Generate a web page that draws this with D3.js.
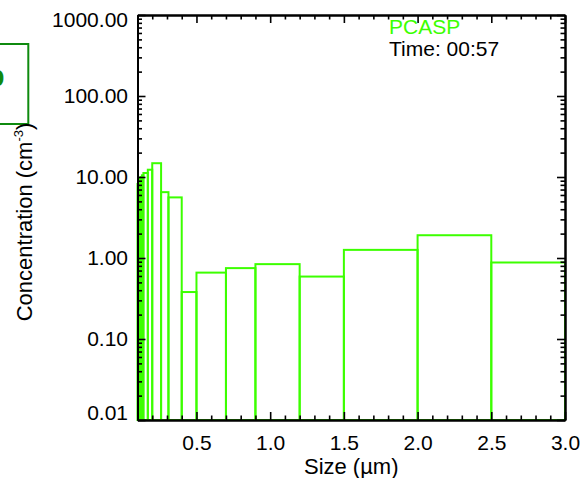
<!DOCTYPE html>
<html>
<head>
<meta charset="utf-8">
<script src="https://cdn.jsdelivr.net/npm/d3@7"></script>
<style>
  html, body { margin: 0; padding: 0; background: #ffffff; }
  svg { display: block; }
  text { font-family: "Liberation Sans", Arial, Helvetica, sans-serif; }
</style>
</head>
<body>
<svg id="chart" width="584" height="478"></svg>
<script>
// ---- data ----
const binEdges = [0.10, 0.11, 0.12, 0.13, 0.14, 0.17, 0.20, 0.26, 0.31, 0.40, 0.50, 0.70, 0.90, 1.20, 1.50, 2.00, 2.50, 3.00];
const concentrations = [8.2, 9.5, 10.0, 10.5, 11.2, 12.3, 14.8, 6.5, 5.6, 0.38, 0.66, 0.75, 0.84, 0.59, 1.26, 1.91, 0.88];
const xTickValues = [0.5, 1.0, 1.5, 2.0, 2.5, 3.0];
const yTickValues = [0.01, 0.1, 1, 10, 100, 1000];
const instrumentName = "PCASP";
const timeLabel = "Time: 00:57";
const xTitle = "Size (\u00b5m)";
const yTitle = "Concentration (cm";
const yTitleSup = "-3";
const panelLetter = "b";

(function () {
// ---- layout ----
const svg = d3.select("#chart");
const pLeft = 137.5, pRight = 565, pTop = 15, pBottom = 420;
const green = "#3cff00";
const darkGreen = "#0f8a0f";

const x = d3.scaleLinear().domain([0.1, 3.0]).range([pLeft, pRight]);
const y = d3.scaleLog().domain([0.01, 1000]).range([pBottom, pTop]);

const bins = concentrations.map((v, i) => ({x0: binEdges[i], x1: binEdges[i + 1], v}));

// panel fragment at left
svg.append("rect")
  .attr("x", -10).attr("y", 44).attr("width", 38.3).attr("height", 80)
  .attr("fill", "none").attr("stroke", darkGreen).attr("stroke-width", 2);
svg.append("text")
  .attr("x", 4.5).attr("y", 85.5)
  .attr("text-anchor", "end")
  .attr("font-size", 30).attr("font-weight", "bold")
  .attr("fill", darkGreen)
  .text(panelLetter);

// bars (histogram outlines)
svg.append("g").selectAll("rect")
  .data(bins)
  .join("rect")
  .attr("x", d => x(d.x0))
  .attr("width", d => x(d.x1) - x(d.x0))
  .attr("y", d => y(d.v))
  .attr("height", d => y(0.01) - y(d.v))
  .attr("fill", "none")
  .attr("stroke", green)
  .attr("stroke-width", 2);

// minor ticks
const xMinor = d3.range(1, 31).map(i => i / 10).filter(v => !xTickValues.some(t => Math.abs(t - v) < 1e-9));
const yMinor = [];
[0.01, 0.1, 1, 10, 100].forEach(d => { for (let k = 2; k <= 9; k++) yMinor.push(k * d); });

const fontTick = 21;

function styleAxis(g) {
  g.select(".domain").attr("stroke", "#000").attr("stroke-width", 2);
  g.selectAll(".tick line").attr("stroke", "#000").attr("stroke-width", 1.6);
  g.selectAll("text").attr("font-family", "Liberation Sans, Arial, sans-serif").attr("font-size", fontTick).attr("fill", "#000");
}

// bottom axis
svg.append("g").attr("transform", `translate(0,${pBottom})`)
  .call(d3.axisBottom(x).tickValues(xMinor).tickSize(-4.5).tickSizeOuter(0).tickFormat(""))
  .call(styleAxis);
svg.append("g").attr("transform", `translate(0,${pBottom})`)
  .call(d3.axisBottom(x).tickValues(xTickValues).tickSize(-8).tickSizeOuter(0).tickPadding(15).tickFormat(d3.format(".1f")))
  .call(styleAxis);

// top axis
svg.append("g").attr("transform", `translate(0,${pTop})`)
  .call(d3.axisTop(x).tickValues(xMinor).tickSize(-4.5).tickSizeOuter(0).tickFormat(""))
  .call(styleAxis);
svg.append("g").attr("transform", `translate(0,${pTop})`)
  .call(d3.axisTop(x).tickValues(xTickValues).tickSize(-8).tickSizeOuter(0).tickFormat(""))
  .call(styleAxis);

// left axis
svg.append("g").attr("transform", `translate(${pLeft},0)`)
  .call(d3.axisLeft(y).tickValues(yMinor).tickSize(-4.5).tickSizeOuter(0).tickFormat(""))
  .call(styleAxis);
const leftAxis = svg.append("g").attr("transform", `translate(${pLeft},0)`)
  .call(d3.axisLeft(y).tickValues(yTickValues).tickSize(-8).tickSizeOuter(0).tickPadding(9.5).tickFormat(d3.format(".2f")))
  .call(styleAxis);
leftAxis.selectAll(".tick text")
  .attr("dy", d => d === 1000 ? "0.54em" : (d === 0.01 ? "-0.02em" : "0.32em"));

// right axis
svg.append("g").attr("transform", `translate(${pRight},0)`)
  .call(d3.axisRight(y).tickValues(yMinor).tickSize(-4.5).tickSizeOuter(0).tickFormat(""))
  .call(styleAxis);
svg.append("g").attr("transform", `translate(${pRight},0)`)
  .call(d3.axisRight(y).tickValues(yTickValues).tickSize(-8).tickSizeOuter(0).tickFormat(""))
  .call(styleAxis);

// axis titles
svg.append("text")
  .attr("x", (pLeft + pRight) / 2).attr("y", 474)
  .attr("text-anchor", "middle")
  .attr("font-size", 22).attr("fill", "#000")
  .text(xTitle);

const yt = svg.append("text")
  .attr("transform", "translate(32,222) rotate(-90)")
  .attr("text-anchor", "middle")
  .attr("font-size", 22).attr("fill", "#000");
yt.append("tspan").text(yTitle);
yt.append("tspan").attr("font-size", 13).attr("dy", -9).text(yTitleSup);
yt.append("tspan").attr("dy", 9).text(")");

// legend labels
svg.append("text")
  .attr("x", 389).attr("y", 34)
  .attr("font-size", 21).attr("fill", green)
  .text(instrumentName);
svg.append("text")
  .attr("x", 389).attr("y", 56)
  .attr("font-size", 21).attr("fill", "#000")
  .text(timeLabel);
})();
</script>
</body>
</html>
